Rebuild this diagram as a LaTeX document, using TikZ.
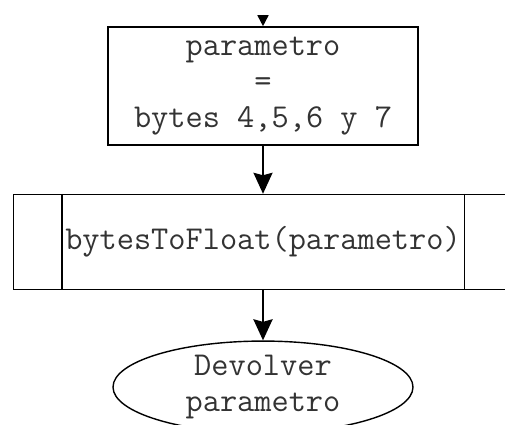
\documentclass[tikz,border=0pt]{standalone}
\usepackage{fontspec}
\usetikzlibrary{positioning, arrows.meta, shapes.geometric}

\begin{document}
\begin{tikzpicture}[
    box/.style={rectangle, draw, line width=0.9pt, align=center, text=black!80, font=\ttfamily\fontsize{19}{20.5}\selectfont},
    terminal/.style={ellipse, draw, line width=0.8pt, align=center, inner sep=0pt, text=black!80, font=\ttfamily\fontsize{19}{20.5}\selectfont},
    flow/.style={-{Stealth[length=0.42cm, width=0.38cm, inset=0.05cm]}}
]
    \clip (0,0) rectangle (10.1,-8.5);

    \node[box, minimum width=6.2cm, minimum height=2.36cm] (assign) at (5.26,-1.72) {parametro\\=\\bytes 4,5,6 y 7};
    \node[box, minimum width=9.98cm, minimum height=1.9cm, below=0.96cm of assign] (convert) {bytesToFloat(parametro)};
    \node[terminal, minimum width=6cm, minimum height=1.84cm, below=1cm of convert] (result) {Devolver\\parametro};

    \draw[line width=0.9pt] ([xshift=0.98cm]convert.north west) -- ([xshift=0.98cm]convert.south west);
    \draw[line width=0.9pt] ([xshift=-0.98cm]convert.north east) -- ([xshift=-0.98cm]convert.south east);

    \coordinate (entry) at (5.26,-0.3);
    \draw[-{Triangle[length=0.22cm, width=0.22cm]}, line width=0.9pt] (entry) -- (assign.north);
    \draw[flow, line width=1.1pt] (assign) -- (convert);
    \draw[flow, line width=1.6pt] (convert) -- (result);

\end{tikzpicture}
\end{document}
